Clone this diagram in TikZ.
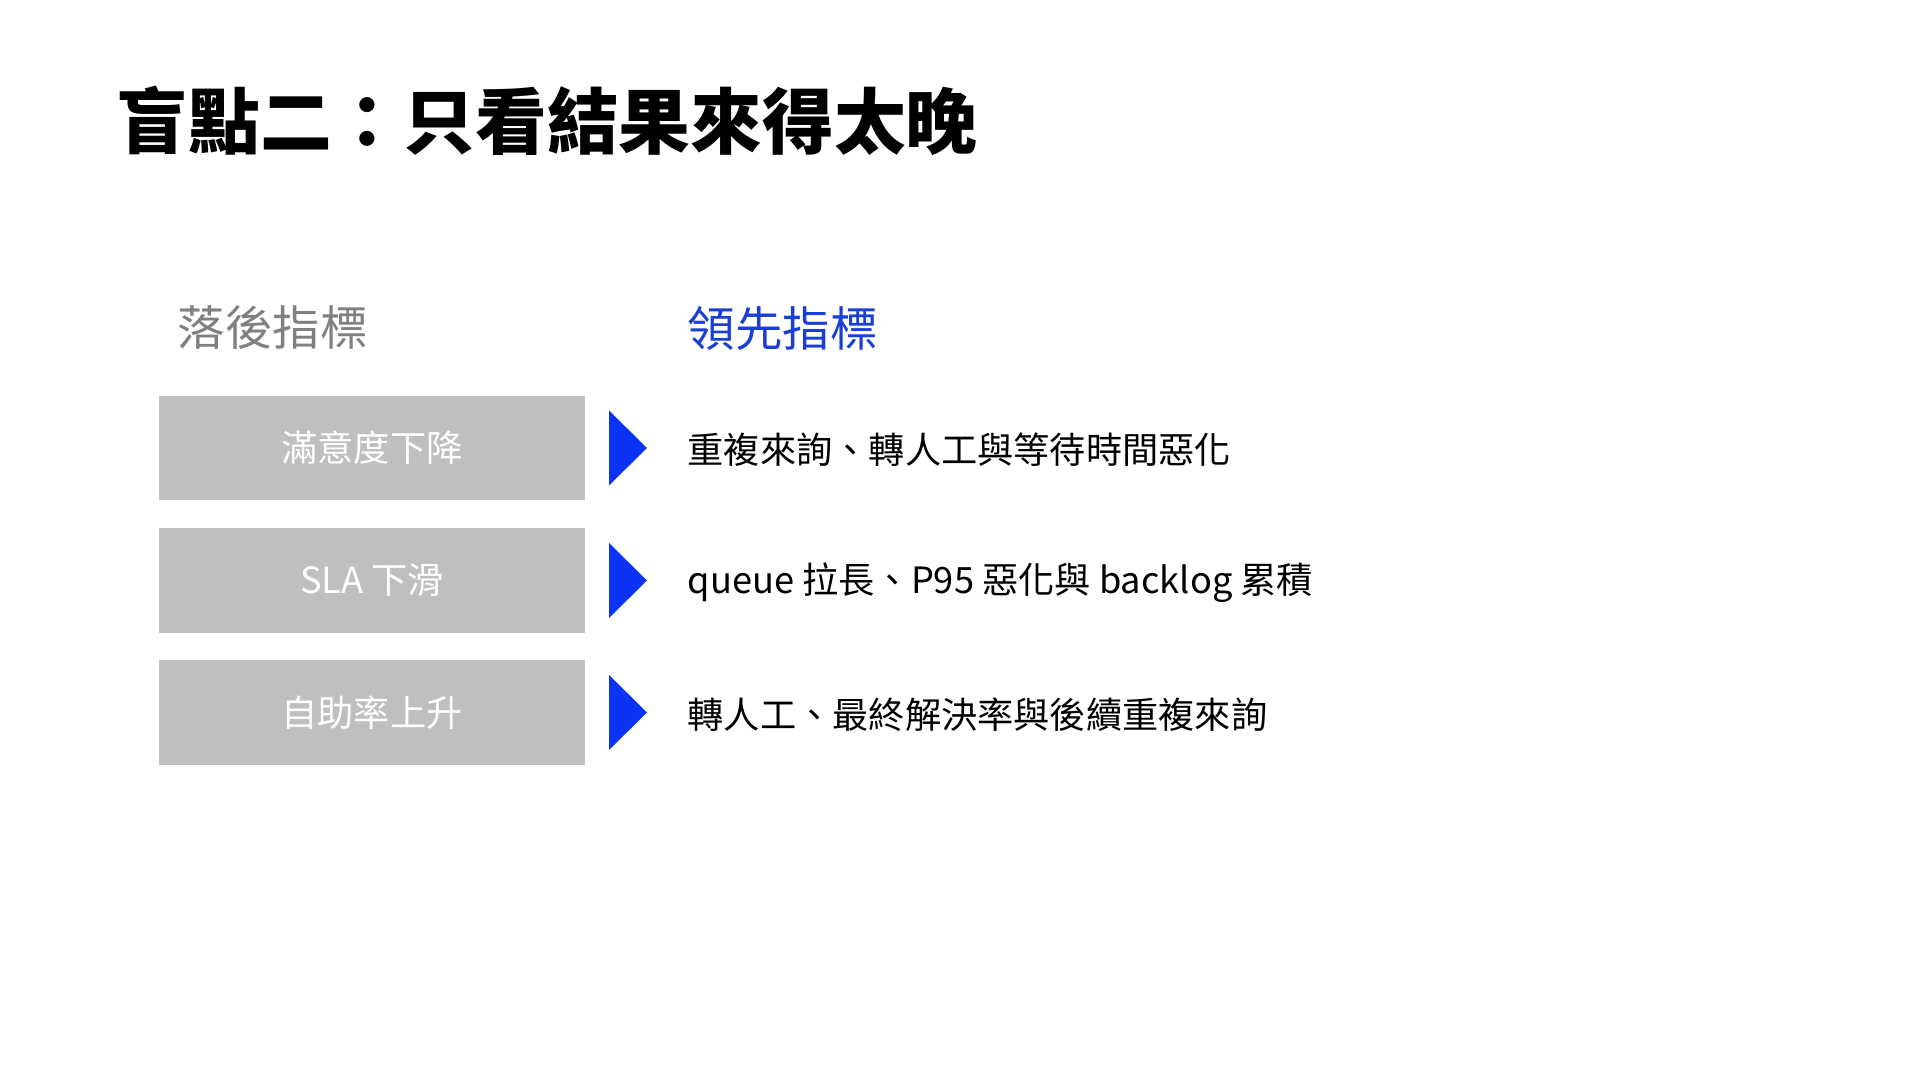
\documentclass[tikz,border=0pt]{standalone}
\usepackage{fontspec}
\setmainfont{Noto Sans CJK TC}
\definecolor{boxgray}{HTML}{BFBFBF}
\definecolor{headgray}{HTML}{808080}
\definecolor{accent}{HTML}{0A33F5}
\definecolor{headblue}{HTML}{1A3FD6}
\begin{document}
\begin{tikzpicture}[x=0.01cm,y=-0.01cm,
  title/.style={anchor=west,inner sep=0,font=\fontsize{20.4pt}{24pt}\selectfont\bfseries},
  heading/.style={anchor=west,inner sep=0,font=\fontsize{13.5pt}{16pt}\selectfont},
  metricbox/.style={fill=boxgray,draw=none,minimum width=4.26cm,minimum height=1.045cm,inner sep=0,text=white,font=\fontsize{10.3pt}{12pt}\selectfont},
  item/.style={anchor=west,inner sep=0,font=\fontsize{10.3pt}{12pt}\selectfont},
  tri/.style={fill=accent,draw=none}]
\useasboundingbox (0,0) rectangle (1920,1080);
\node[title] (t) at (116,121) {盲點二：只看結果來得太晚};
\node[heading,text=headgray] (hl) at (177,328) {落後指標};
\node[heading,text=headblue] (hr) at (687,328) {領先指標};
\foreach \i/\y/\a/\b in {1/448/滿意度下降/重複來詢、轉人工與等待時間惡化,
                         2/580.5/SLA 下滑/queue 拉長、P95 惡化與 backlog 累積,
                         3/712.5/自助率上升/轉人工、最終解決率與後續重複來詢}{
  \node[metricbox] (b\i) at (372,\y) {\a};
  \coordinate (ta\i) at (609,\y-37.5);
  \coordinate (tb\i) at (647,\y);
  \coordinate (tc\i) at (609,\y+37.5);
  \fill[tri] (ta\i) -- (tb\i) -- (tc\i) -- cycle;
  \node[item] (m\i) at (687,\y+2) {\b};
}
\end{tikzpicture}
\end{document}
